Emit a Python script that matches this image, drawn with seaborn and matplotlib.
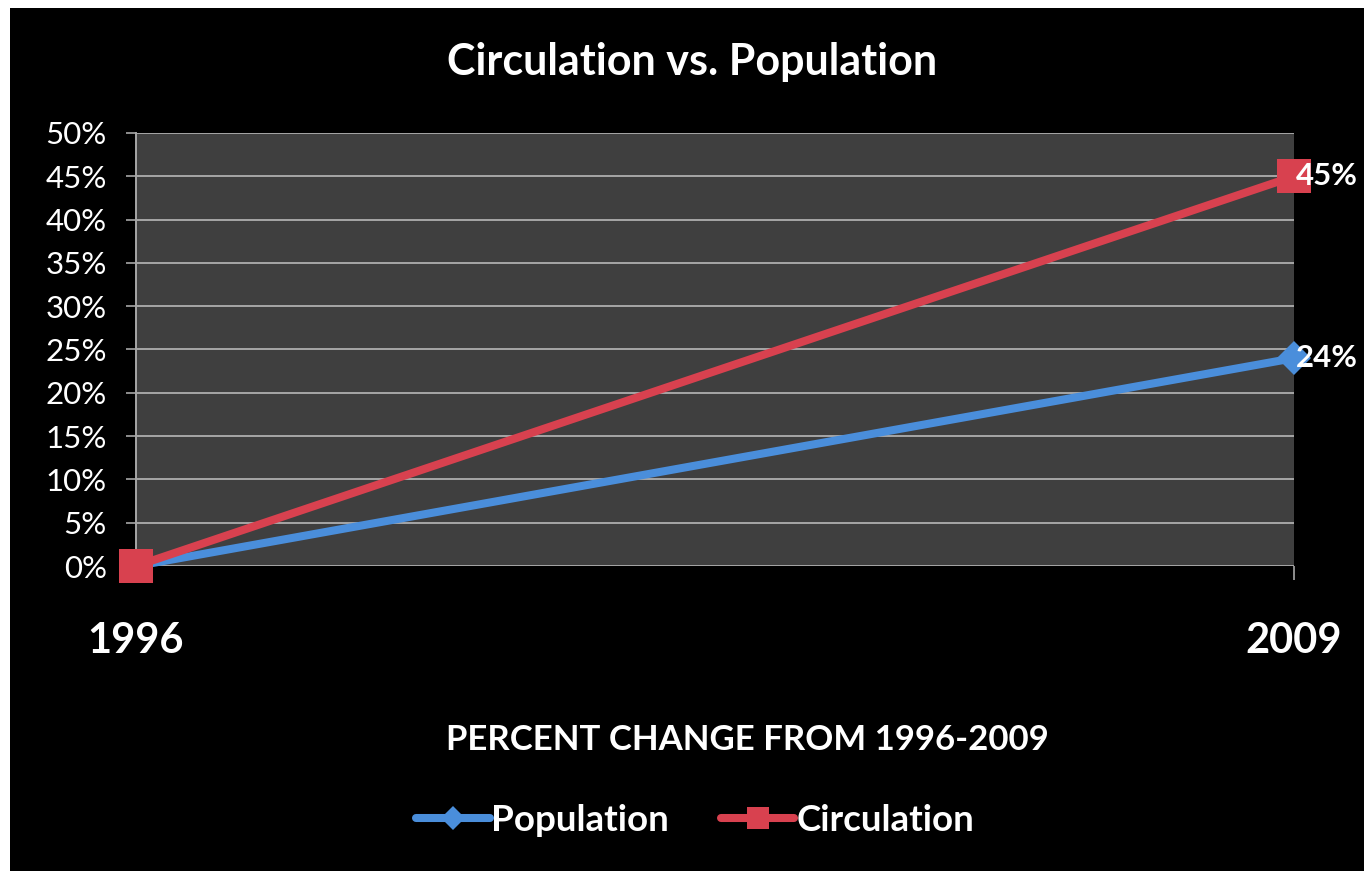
import matplotlib
matplotlib.use("Agg")
import matplotlib.pyplot as plt
from matplotlib.lines import Line2D
from matplotlib.patches import Rectangle
import seaborn as sns
import pandas as pd

years = [1996, 2009]
year_labels = ["1996", "2009"]
population = [0.0, 24.0]
circulation = [0.0, 45.0]
series_names = ["Population", "Circulation"]
end_labels = ["24%", "45%"]
y_ticks = [0, 5, 10, 15, 20, 25, 30, 35, 40, 45, 50]

df = pd.DataFrame({
    "year": years * 2,
    "pct": population + circulation,
    "series": [series_names[0]] * len(years) + [series_names[1]] * len(years),
})

sns.set_theme(style="dark")
plt.rcParams["font.family"] = ["Lato", "DejaVu Sans"]

BLUE = "#4a8edb"
RED = "#d8414f"
GRID = "#a6a6a6"

fig = plt.figure(figsize=(13.64, 8.71), dpi=100)
fig.patch.set_facecolor("black")
# thin white margins along the top and left edges
fig.add_artist(Rectangle((0, 0), 10 / 1364, 1, transform=fig.transFigure,
                         facecolor="white", edgecolor="none", zorder=0))
fig.add_artist(Rectangle((0, 1 - 8 / 871), 1, 8 / 871, transform=fig.transFigure,
                         facecolor="white", edgecolor="none", zorder=0))

ax = fig.add_axes([136 / 1364, 1 - 566 / 871, (1294 - 136) / 1364, (566 - 133) / 871])
ax.set_facecolor("#3f3f3f")

sns.lineplot(data=df, x="year", y="pct", hue="series", style="series",
             palette={"Population": BLUE, "Circulation": RED},
             markers={"Population": "D", "Circulation": "s"},
             dashes=False, linewidth=5.8, legend=False, ax=ax,
             markeredgewidth=0, clip_on=False, zorder=3)
# marker sizes per series
for line, ms in zip(ax.get_lines(), [17, 24]):
    line.set_markersize(ms)

ax.set_xlim(years[0], years[-1])
ax.set_ylim(0, 50)
ax.set_yticks(y_ticks)
ax.set_yticklabels([f"{t}%" for t in y_ticks], color="white", fontsize=22.5)
ax.set_xticks(years)
ax.set_xticklabels(year_labels, color="white", fontsize=30, fontweight="bold")
ax.tick_params(axis="x", length=10, width=1.2, color=GRID, pad=30, direction="out", bottom=True)
ax.tick_params(axis="y", length=7, width=1.2, color=GRID, pad=14, direction="out", left=True)
ax.set_xlabel("")
ax.set_ylabel("")

ax.grid(axis="y", color=GRID, linewidth=1.4)
ax.grid(axis="x", visible=False)
for side in ["top", "right", "bottom"]:
    ax.spines[side].set_visible(False)
ax.spines["left"].set_visible(True)
ax.spines["left"].set_color(GRID)
ax.spines["left"].set_linewidth(1.4)

# end-of-line value labels
for vals, lab in zip([population, circulation], end_labels):
    ax.annotate(lab, xy=(years[-1], vals[-1]), xytext=(1.5, 0),
                textcoords="offset points", ha="left", va="center",
                color="white", fontsize=22.5, fontweight="bold",
                annotation_clip=False, zorder=5)

fig.text(692 / 1364, 1 - 62 / 871, "Circulation vs. Population", ha="center",
         va="center", color="white", fontsize=31, fontweight="bold")
fig.text(747 / 1364, 1 - 740 / 871, "PERCENT CHANGE FROM 1996-2009", ha="center",
         va="center", color="white", fontsize=25, fontweight="bold")

handles = [
    Line2D([], [], color=BLUE, lw=5.8, marker="D", markersize=12, markeredgewidth=0),
    Line2D([], [], color=RED, lw=5.8, marker="s", markersize=16, markeredgewidth=0),
]
leg = fig.legend(handles, series_names, loc="center", bbox_to_anchor=(695 / 1364, 1 - 820 / 871),
                 ncol=2, frameon=False, handlelength=2.0, handletextpad=0.05,
                 columnspacing=1.4, prop={"size": 26.5, "weight": "bold"})
for t in leg.get_texts():
    t.set_color("white")

fig.savefig("out.png", dpi=100, facecolor=fig.get_facecolor())
